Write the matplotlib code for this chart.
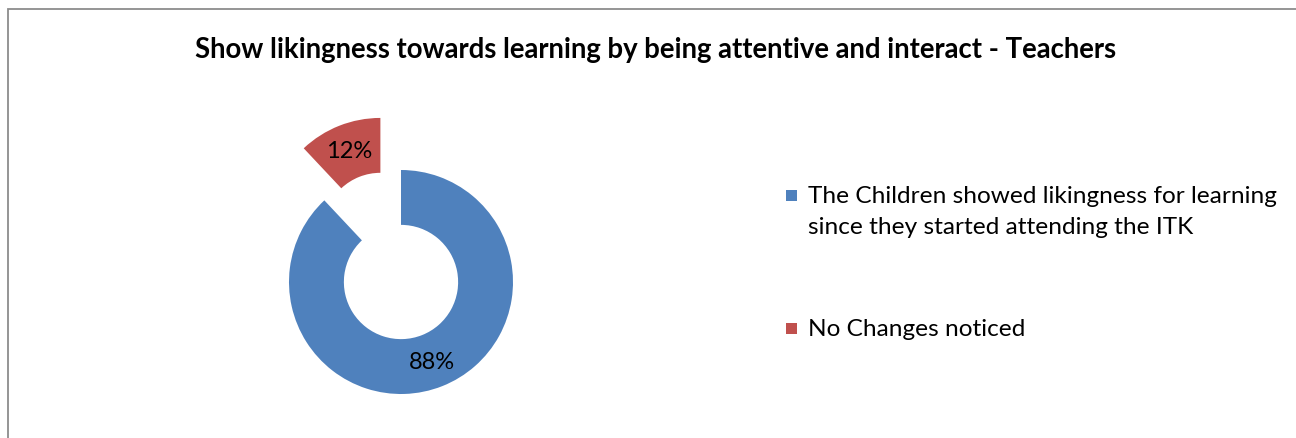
import matplotlib
matplotlib.use('Agg')
import matplotlib.pyplot as plt
from matplotlib.patches import Rectangle

plt.rcParams['font.family'] = ['Lato', 'DejaVu Sans']

title = 'Show likingness towards learning by being attentive and interact - Teachers'
labels = ['The Children showed likingness for learning\nsince they started attending the ITK',
          'No Changes noticed']
shares = [88, 12]
colors = ['#4f81bd', '#c0504d']

W, H = 1296, 439
fig = plt.figure(figsize=(W / 100, H / 100), dpi=100)

# outer frame (only top and left edges fall inside the canvas)
fig.add_artist(Rectangle((7.5 / W, -0.1), 1.2, (H - 9.5) / H + 0.1,
                         transform=fig.transFigure, fill=False,
                         edgecolor='#8c8c8c', lw=1.3))

fig.text(656 / W, 1 - 50 / H, title, ha='center', va='center',
         fontsize=19.8, fontweight='bold')

# donut: centre at (401, 283) px, outer radius 112 px
cx, cy, r, S = 401, 283, 112, 200
ax = fig.add_axes([(cx - S) / W, (H - cy - S) / H, 2 * S / W, 2 * S / H])
wedges, _, autotexts = ax.pie(shares, colors=colors, startangle=90, counterclock=False,
                              explode=[0, 0.5], radius=1,
                              wedgeprops=dict(width=0.49, linewidth=0),
                              autopct='%d%%', pctdistance=0.76,
                              textprops=dict(fontsize=17))
ax.set_xlim(-S / r, S / r)
ax.set_ylim(-S / r, S / r)
ax.set_aspect('equal')
ax.axis('off')

# legend, one text line at a time so the square sits on the first line
legend_y = [196, 329]
for lab, col, y in zip(labels, colors, legend_y):
    fig.add_artist(Rectangle((786 / W, 1 - (y + 6) / H), 11 / W, 11 / H,
                             transform=fig.transFigure, facecolor=col, edgecolor='none'))
    for i, line in enumerate(lab.split('\n')):
        fig.text(808 / W, 1 - (y + 7 + 31 * i) / H, line, ha='left', va='baseline',
                 fontsize=17.6)

fig.savefig('out.png', dpi=100)
